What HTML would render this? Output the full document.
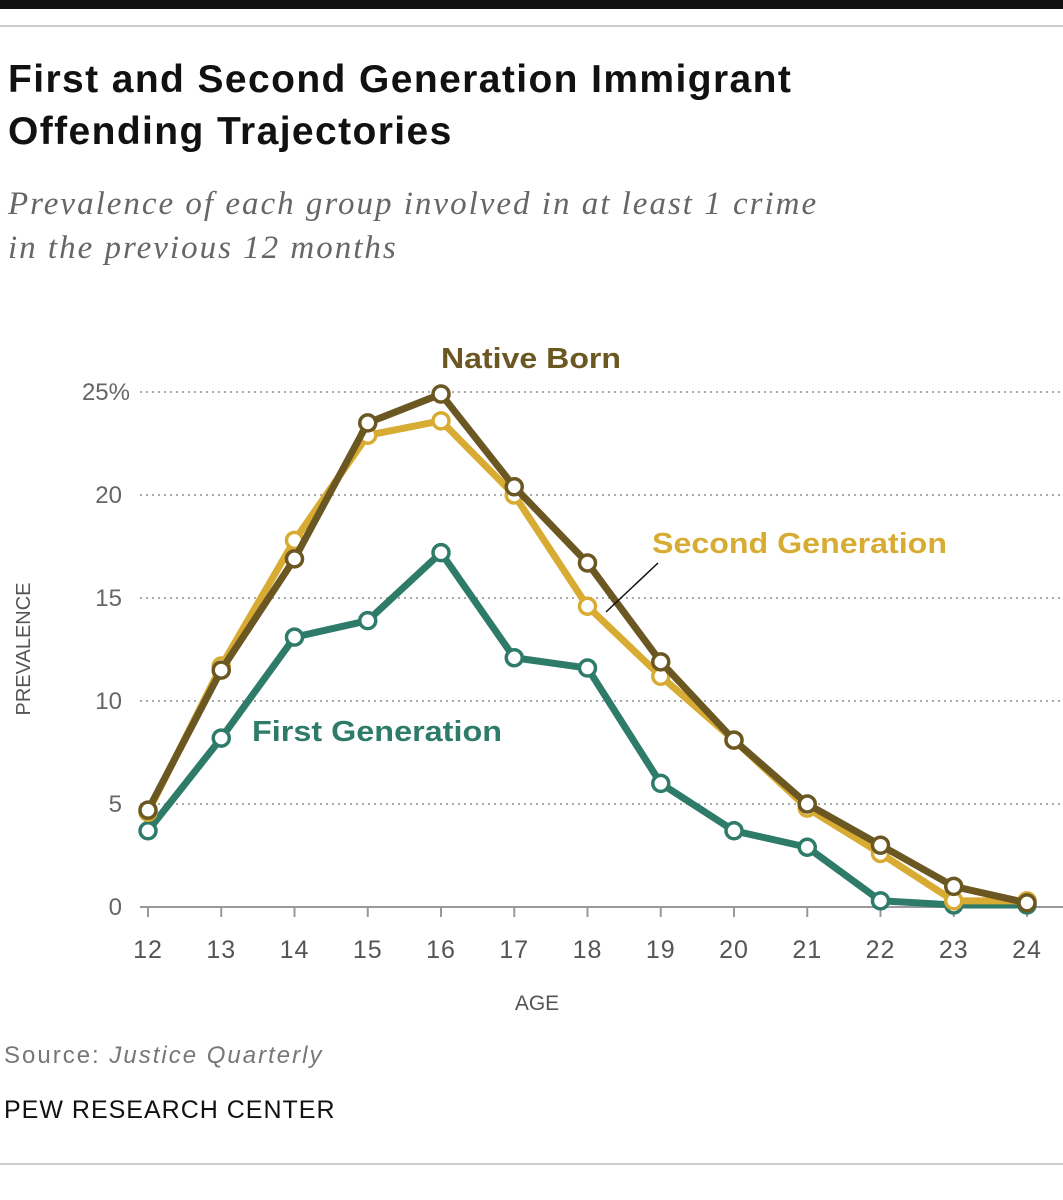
<!DOCTYPE html>
<html><head><meta charset="utf-8">
<style>
body{margin:0;width:1063px;height:1200px;background:#fff;overflow:hidden;font-family:"Liberation Sans",sans-serif;}
.topbar{position:absolute;left:0;top:0;width:1063px;height:9px;background:#111;}
.rule{position:absolute;left:0;width:1063px;height:2px;background:#ccc;}
.title{position:absolute;left:8px;top:54px;font-size:39px;font-weight:bold;color:#111;line-height:52px;letter-spacing:1.4px;}
.sub{position:absolute;left:8px;top:182px;font-family:"Liberation Serif",serif;font-style:italic;font-size:33px;color:#666;line-height:44px;letter-spacing:2px;}
.src{position:absolute;left:4px;top:1042px;font-size:24px;color:#777;letter-spacing:2px;}
.pew{position:absolute;left:4px;top:1096px;font-size:25px;color:#111;letter-spacing:1px;}
</style></head><body>
<div class="topbar"></div>
<div class="rule" style="top:25px"></div>
<div class="title">First and Second Generation Immigrant<br>Offending Trajectories</div>
<div class="sub">Prevalence of each group involved in at least 1 crime<br>in the previous 12 months</div>
<svg id="chart" style="position:absolute;left:0;top:0" width="1063" height="1200"></svg>
<div class="src">Source: <i>Justice Quarterly</i></div>
<div class="pew">PEW RESEARCH CENTER</div>
<div class="rule" style="top:1163px"></div>
<script>
const ages=[12,13,14,15,16,17,18,19,20,21,22,23,24];
const yTicks=[0,5,10,15,20,25];
const yTickLabels=["0","5","10","15","20","25%"];
const secondGen=[4.6,11.7,17.8,22.9,23.6,20.0,14.6,11.2,8.1,4.8,2.6,0.3,0.3];
const firstGen=[3.7,8.2,13.1,13.9,17.2,12.1,11.6,6.0,3.7,2.9,0.3,0.1,0.1];
const nativeBorn=[4.7,11.5,16.9,23.5,24.9,20.4,16.7,11.9,8.1,5.0,3.0,1.0,0.2];
const svg=document.getElementById('chart');
const NS='http://www.w3.org/2000/svg';
const x=a=>148+(a-12)*(1027-148)/12;
const y=v=>907-v*(907-392)/25;
function mk(t,at,p){const e=document.createElementNS(NS,t);for(const k in at)e.setAttribute(k,at[k]);(p||svg).appendChild(e);return e;}
yTicks.forEach((t,i)=>{
 const g=mk('g',{});
 
 
 if(t===0) mk('line',{x1:140,x2:1063,y1:y(t),y2:y(t),stroke:'#999','stroke-width':2},g);
 else mk('line',{x1:140,x2:1063,y1:y(t),y2:y(t),stroke:'#aaa','stroke-width':2,'stroke-dasharray':'2 4'},g);
 const tx=mk('text',{x:t===25?130:122,y:y(t)+8,'text-anchor':'end','font-size':24,fill:'#666','font-family':'Liberation Sans'},g);
 tx.textContent=yTickLabels[i];
});
ages.forEach(a=>{
 const g=mk('g',{});
 
 
 mk('line',{x1:x(a),x2:x(a),y1:907,y2:917,stroke:'#999','stroke-width':2},g);
 const tx=mk('text',{x:x(a),y:958,'text-anchor':'middle','font-size':25,fill:'#555','font-family':'Liberation Sans','letter-spacing':1},g);
 tx.textContent=a;
});
const xt=mk('text',{x:537,y:1010,'text-anchor':'middle','font-size':21,fill:'#555'});
xt.textContent='AGE';


const yt=mk('text',{x:30,y:649,'text-anchor':'middle','font-size':20,fill:'#555',transform:'rotate(-90 30 649)'});
yt.textContent='PREVALENCE';


function series(vals,color,name){
 const g=mk('g',{});
 
 
 mk('polyline',{points:vals.map((v,i)=>x(ages[i])+','+y(v)).join(' '),fill:'none',stroke:color,'stroke-width':7,'stroke-linejoin':'round'},g);
 vals.forEach((v,i)=>{
  const c=mk('circle',{cx:x(ages[i]),cy:y(v),r:8,fill:'#fff',stroke:color,'stroke-width':3.5},g);
  
  
 });
}
series(firstGen,'#2e7b6a','first-generation-line');
series(secondGen,'#d8ab32','second-generation-line');
series(nativeBorn,'#6b5722','native-born-line');
function label(txt,xx,yy,w,color,name){const t=mk('text',{x:xx,y:yy,'font-size':29,'font-weight':'bold',fill:color,textLength:w,lengthAdjust:'spacingAndGlyphs'});t.textContent=txt;}
label('Native Born',441,368,180,'#6b5722','native-born-label');
label('Second Generation',652,553,295,'#d8ab32','second-generation-label');
label('First Generation',252,741,250,'#2e7b6a','first-generation-label');
const ln=mk('line',{x1:658,y1:563,x2:606,y2:612,stroke:'#111','stroke-width':1.5});


</script>
</body></html>
